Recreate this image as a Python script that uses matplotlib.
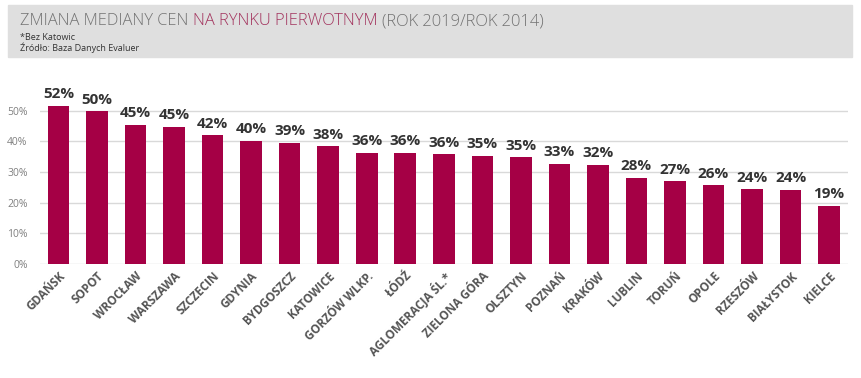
import matplotlib.pyplot as plt
from matplotlib.patches import Rectangle

# Dane
cities = ["GDAŃSK", "SOPOT", "WROCŁAW", "WARSZAWA", "SZCZECIN", "GDYNIA",
          "BYDGOSZCZ", "KATOWICE", "GORZÓW WLKP.", "ŁÓDŹ", "AGLOMERACJA ŚL.*",
          "ZIELONA GÓRA", "OLSZTYN", "POZNAŃ", "KRAKÓW", "LUBLIN", "TORUŃ",
          "OPOLE", "RZESZÓW", "BIAŁYSTOK", "KIELCE"]
values = [51.6, 49.7, 45.4, 44.8, 41.9, 40.1, 39.4, 38.3, 36.2, 36.2, 35.8,
          35.2, 34.8, 32.7, 32.3, 28.0, 26.9, 25.6, 24.4, 24.1, 18.9]
yticks = [0, 10, 20, 30, 40, 50]

plt.rcParams['font.family'] = ['Open Sans', 'DejaVu Sans']

fig = plt.figure(figsize=(8.61, 3.78), dpi=100)

# szary pasek tytułu
fig.patches.append(Rectangle((8 / 861, 1 - 57 / 378), 844 / 861, 52 / 378,
                             transform=fig.transFigure, color="#dfdfdf", zorder=0))
title_y = 1 - 25 / 378
t1 = fig.text(20 / 861, title_y, "ZMIANA MEDIANY CEN ", fontsize=11.9,
              fontweight="light", color="#737373", va="baseline")
fig.canvas.draw()
r = fig.canvas.get_renderer()
bb = t1.get_window_extent(r)
t2 = fig.text(bb.x1 / 861, title_y, "NA RYNKU PIERWOTNYM ", fontsize=11.9,
              fontweight="light", color="#a3345e", va="baseline")
bb2 = t2.get_window_extent(r)
fig.text(bb2.x1 / 861, title_y, "(ROK 2019/ROK 2014)", fontsize=11.9,
         fontweight="light", color="#737373", va="baseline")
fig.text(20 / 861, 1 - 40 / 378, "*Bez Katowic", fontsize=6.5, color="#333333", va="baseline")
fig.text(20 / 861, 1 - 51 / 378, "Źródło: Baza Danych Evaluer", fontsize=6.5, color="#333333", va="baseline")

ax = fig.add_axes([40 / 861, 114 / 378, 808 / 861, 178 / 378])
x = list(range(len(cities)))
ax.bar(x, values, width=0.56, color="#a50045", zorder=3)
for xi, v in zip(x, values):
    ax.text(xi, v + 1.5, f"{round(v)}%", ha="center", va="bottom",
            fontsize=11, fontweight="bold", color="#333333")

ax.set_xlim(-0.48, len(cities) - 0.51)
ax.set_ylim(0, 58)
ax.set_yticks(yticks)
ax.set_yticklabels([f"{t}%" for t in yticks], fontsize=7.5, color="#808080")
ax.yaxis.grid(True, color="#d9d9d9", linewidth=1, zorder=0)
ax.set_xticks(x)
ax.set_xticklabels(cities, rotation=45, ha="right", rotation_mode="anchor",
                   fontsize=8.5, fontweight="bold", color="#555555")
ax.tick_params(length=0)
ax.tick_params(axis="y", pad=9)
ax.tick_params(axis="x", pad=4)
for s in ax.spines.values():
    s.set_visible(False)

fig.savefig("out.png", dpi=100)
